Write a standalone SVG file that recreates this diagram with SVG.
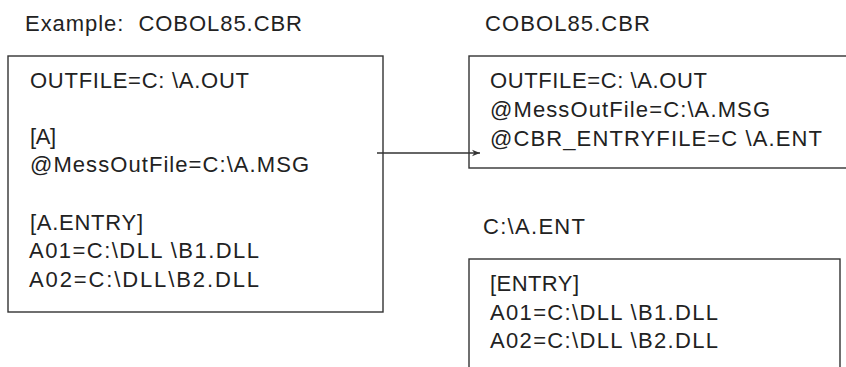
<svg xmlns="http://www.w3.org/2000/svg" width="846" height="367" viewBox="0 0 846 367">
<style>
  .box { fill: #ffffff; stroke: #333333; stroke-width: 1.4; }
  .t { font-family: "Liberation Sans", Arial, sans-serif; font-size: 22px; fill: #222222; white-space: pre; }
  .conn { stroke: #333333; stroke-width: 1.4; fill: none; }
</style>
<defs>
  <marker id="arrow" viewBox="0 0 10 10" refX="10" refY="5" markerWidth="8" markerHeight="8" markerUnits="userSpaceOnUse" orient="auto">
    <path d="M0,1 L10,5 L0,9 L3,5 Z" fill="#333333"/>
  </marker>
</defs>
<rect width="846" height="367" fill="#ffffff"/>

<g id="node-source">
  <text class="t" x="25" y="31" textLength="277" lengthAdjust="spacing" xml:space="preserve">Example:  COBOL85.CBR</text>
  <rect class="box" x="8" y="56" width="375" height="256"/>
  <text class="t" x="30" y="88" textLength="219" lengthAdjust="spacing">OUTFILE=C: \A.OUT</text>
  <text class="t" x="30" y="144" textLength="26" lengthAdjust="spacing">[A]</text>
  <text class="t" x="30" y="172" textLength="279" lengthAdjust="spacing">@MessOutFile=C:\A.MSG</text>
  <text class="t" x="30" y="230" textLength="113" lengthAdjust="spacing">[A.ENTRY]</text>
  <text class="t" x="29" y="258" textLength="230" lengthAdjust="spacing">A01=C:\DLL \B1.DLL</text>
  <text class="t" x="29" y="287" textLength="230" lengthAdjust="spacing">A02=C:\DLL\B2.DLL</text>
</g>

<g id="node-cbr">
  <text class="t" x="485" y="31" textLength="165" lengthAdjust="spacing">COBOL85.CBR</text>
  <rect class="box" x="469" y="56" width="385" height="112"/>
  <text class="t" x="490" y="88" textLength="217" lengthAdjust="spacing">OUTFILE=C: \A.OUT</text>
  <text class="t" x="490" y="117" textLength="280" lengthAdjust="spacing">@MessOutFile=C:\A.MSG</text>
  <text class="t" x="490" y="146" textLength="332" lengthAdjust="spacing">@CBR_ENTRYFILE=C \A.ENT</text>
</g>

<g id="node-ent">
  <text class="t" x="483" y="234" textLength="102" lengthAdjust="spacing">C:\A.ENT</text>
  <rect class="box" x="469" y="259" width="371" height="120"/>
  <text class="t" x="490" y="291" textLength="89" lengthAdjust="spacing">[ENTRY]</text>
  <text class="t" x="490" y="320" textLength="228" lengthAdjust="spacing">A01=C:\DLL \B1.DLL</text>
  <text class="t" x="490" y="348" textLength="228" lengthAdjust="spacing">A02=C:\DLL \B2.DLL</text>
</g>

<g id="connectors">
  <line class="conn" x1="377" y1="153" x2="480" y2="153" marker-end="url(#arrow)"/>
</g>
</svg>
